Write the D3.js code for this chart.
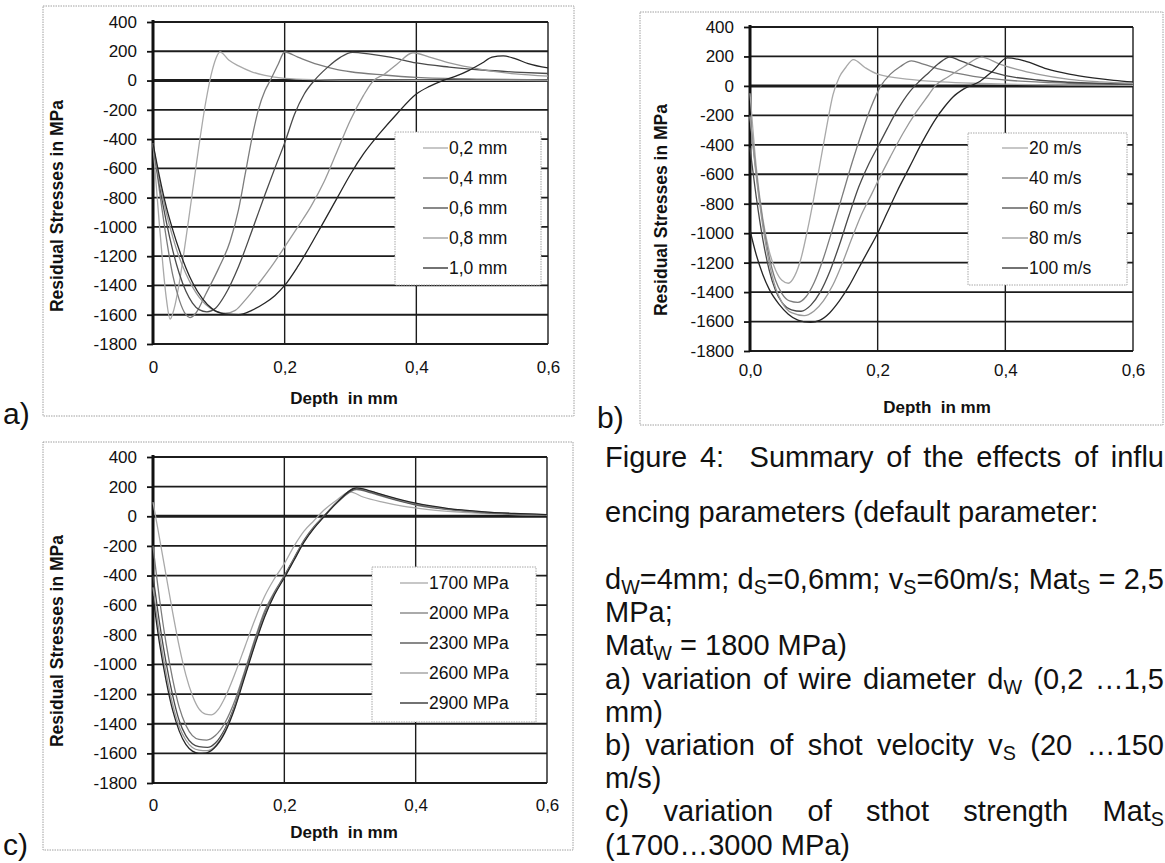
<!DOCTYPE html>
<html>
<head>
<meta charset="utf-8">
<script src="https://cdn.jsdelivr.net/npm/d3@7"></script>
<style>
  body { margin: 0; background: #fff; }
  svg { display: block; }
  text { white-space: pre; }
</style>
</head>
<body>
<svg id="fig" width="1165" height="863"></svg>
<script>
// ---- data ----
var stressTicks = [400, 200, 0, -200, -400, -600, -800, -1000, -1200, -1400, -1600, -1800];
var depthTicks = [0, 0.2, 0.4, 0.6];
var depthLabelsAC = ["0", "0,2", "0,4", "0,6"];
var depthLabelsB = ["0,0", "0,2", "0,4", "0,6"];

// a) wire diameter
var wireLabels = ["0,2 mm", "0,4 mm", "0,6 mm", "0,8 mm", "1,0 mm"];
var wire02 = [[0,-430],[0.005,-720],[0.01,-1000],[0.015,-1260],[0.02,-1480],[0.026,-1630],[0.032,-1560],[0.04,-1380],[0.05,-1080],[0.06,-760],[0.07,-440],[0.08,-150],[0.09,70],[0.102,195],[0.115,140],[0.13,100],[0.15,60],[0.17,35],[0.2,15],[0.25,6],[0.3,3],[0.4,2],[0.5,1],[0.6,0]];
var wire04 = [[0,-430],[0.01,-760],[0.02,-1070],[0.03,-1330],[0.04,-1500],[0.05,-1600],[0.056,-1620],[0.065,-1590],[0.08,-1460],[0.1,-1280],[0.117,-1100],[0.13,-880],[0.14,-640],[0.15,-400],[0.16,-200],[0.17,-70],[0.178,0],[0.19,110],[0.2,195],[0.22,160],[0.25,110],[0.28,75],[0.3,60],[0.35,38],[0.4,22],[0.5,10],[0.6,5]];
var wire06 = [[0,-430],[0.01,-720],[0.02,-960],[0.03,-1160],[0.04,-1320],[0.05,-1440],[0.06,-1520],[0.07,-1565],[0.082,-1580],[0.095,-1555],[0.11,-1460],[0.13,-1270],[0.15,-1030],[0.17,-780],[0.185,-600],[0.2,-426],[0.215,-230],[0.23,-90],[0.245,0],[0.265,90],[0.285,160],[0.303,192],[0.33,180],[0.36,160],[0.4,120],[0.45,92],[0.5,72],[0.55,58],[0.6,48]];
var wire08 = [[0,-430],[0.01,-690],[0.02,-900],[0.03,-1070],[0.04,-1210],[0.05,-1320],[0.06,-1410],[0.07,-1480],[0.08,-1530],[0.095,-1575],[0.11,-1590],[0.125,-1570],[0.14,-1500],[0.16,-1390],[0.18,-1270],[0.2,-1137],[0.22,-1000],[0.24,-860],[0.26,-690],[0.28,-480],[0.3,-270],[0.32,-100],[0.335,0],[0.35,40],[0.37,110],[0.395,190],[0.42,160],[0.45,120],[0.5,75],[0.55,45],[0.6,30]];
var wire10 = [[0,-430],[0.01,-660],[0.02,-860],[0.03,-1020],[0.04,-1160],[0.05,-1280],[0.06,-1380],[0.075,-1490],[0.09,-1560],[0.11,-1595],[0.13,-1600],[0.15,-1570],[0.17,-1520],[0.185,-1470],[0.2,-1400],[0.22,-1270],[0.25,-1040],[0.28,-800],[0.3,-640],[0.32,-500],[0.345,-358],[0.37,-230],[0.4,-92],[0.42,-40],[0.44,0],[0.46,30],[0.48,70],[0.5,120],[0.515,160],[0.532,168],[0.55,150],[0.57,115],[0.6,86]];

// b) shot velocity
var velLabels = ["20 m/s", "40 m/s", "60 m/s", "80 m/s", "100 m/s"];
var vel20 = [[0,-50],[0.01,-560],[0.02,-900],[0.03,-1120],[0.04,-1250],[0.05,-1320],[0.06,-1340],[0.07,-1290],[0.08,-1170],[0.09,-980],[0.1,-760],[0.11,-520],[0.12,-280],[0.13,-60],[0.14,60],[0.15,125],[0.162,178],[0.18,125],[0.2,80],[0.25,45],[0.3,28],[0.35,18],[0.4,12],[0.5,6],[0.6,4]];
var vel40 = [[0,-200],[0.01,-600],[0.02,-920],[0.03,-1160],[0.04,-1320],[0.05,-1410],[0.062,-1460],[0.075,-1470],[0.088,-1430],[0.1,-1340],[0.115,-1170],[0.13,-960],[0.145,-740],[0.16,-520],[0.175,-320],[0.19,-140],[0.205,0],[0.22,80],[0.235,130],[0.253,170],[0.27,150],[0.3,110],[0.35,65],[0.4,40],[0.5,18],[0.6,10]];
var vel60 = [[0,-420],[0.01,-760],[0.02,-1040],[0.03,-1250],[0.04,-1390],[0.05,-1470],[0.065,-1520],[0.08,-1530],[0.095,-1490],[0.11,-1400],[0.125,-1260],[0.14,-1080],[0.155,-880],[0.17,-690],[0.185,-540],[0.2,-415],[0.215,-290],[0.23,-170],[0.25,-40],[0.265,30],[0.28,90],[0.295,150],[0.313,196],[0.33,170],[0.36,120],[0.4,70],[0.45,40],[0.5,25],[0.6,12]];
var vel80 = [[0,-210],[0.01,-620],[0.02,-950],[0.03,-1200],[0.04,-1370],[0.05,-1470],[0.065,-1540],[0.085,-1560],[0.1,-1530],[0.115,-1460],[0.13,-1350],[0.145,-1200],[0.16,-1030],[0.175,-870],[0.19,-740],[0.2,-650],[0.22,-480],[0.24,-320],[0.26,-180],[0.28,-60],[0.29,0],[0.31,60],[0.335,130],[0.363,196],[0.39,150],[0.42,110],[0.45,80],[0.5,45],[0.55,28],[0.6,18]];
var vel100 = [[0,-980],[0.01,-1150],[0.02,-1280],[0.03,-1380],[0.045,-1480],[0.06,-1550],[0.075,-1590],[0.095,-1605],[0.11,-1590],[0.125,-1540],[0.14,-1460],[0.155,-1360],[0.17,-1240],[0.185,-1120],[0.2,-1000],[0.215,-860],[0.23,-720],[0.25,-550],[0.27,-380],[0.29,-230],[0.305,-140],[0.318,-75],[0.335,-20],[0.36,30],[0.38,100],[0.403,190],[0.43,170],[0.465,115],[0.5,80],[0.537,55],[0.57,38],[0.6,27]];

// c) shot strength
var strengthLabels = ["1700 MPa", "2000 MPa", "2300 MPa", "2600 MPa", "2900 MPa"];
var str1700 = [[0,96],[0.01,-150],[0.02,-400],[0.03,-650],[0.04,-880],[0.05,-1070],[0.06,-1210],[0.07,-1300],[0.08,-1335],[0.089,-1340],[0.1,-1300],[0.11,-1220],[0.125,-1060],[0.14,-880],[0.155,-700],[0.17,-540],[0.185,-420],[0.2,-320],[0.215,-200],[0.23,-100],[0.245,-30],[0.26,40],[0.28,110],[0.3,165],[0.32,130],[0.35,95],[0.38,68],[0.42,45],[0.48,25],[0.55,12],[0.6,8]];
var str2000 = [[0,-200],[0.01,-560],[0.02,-860],[0.03,-1100],[0.04,-1290],[0.05,-1410],[0.06,-1480],[0.07,-1505],[0.082,-1510],[0.095,-1480],[0.11,-1390],[0.125,-1240],[0.14,-1040],[0.155,-830],[0.17,-640],[0.185,-510],[0.2,-400],[0.215,-280],[0.23,-160],[0.245,-70],[0.26,0],[0.28,90],[0.31,180],[0.33,160],[0.36,120],[0.4,75],[0.45,45],[0.5,25],[0.55,14],[0.6,8]];
var str2300 = [[0,-400],[0.01,-720],[0.02,-990],[0.03,-1210],[0.04,-1380],[0.05,-1480],[0.06,-1535],[0.07,-1555],[0.083,-1560],[0.095,-1530],[0.11,-1430],[0.125,-1270],[0.14,-1060],[0.155,-850],[0.17,-660],[0.185,-520],[0.2,-405],[0.215,-285],[0.23,-165],[0.245,-75],[0.26,0],[0.28,95],[0.31,185],[0.33,165],[0.36,125],[0.4,80],[0.45,48],[0.5,28],[0.55,16],[0.6,9]];
var str2600 = [[0,-480],[0.01,-800],[0.02,-1060],[0.03,-1270],[0.04,-1420],[0.05,-1510],[0.06,-1560],[0.07,-1578],[0.082,-1582],[0.095,-1550],[0.11,-1445],[0.125,-1280],[0.14,-1070],[0.155,-860],[0.17,-670],[0.185,-525],[0.2,-410],[0.215,-290],[0.23,-170],[0.245,-78],[0.26,-2],[0.28,95],[0.31,190],[0.33,170],[0.36,130],[0.4,85],[0.45,50],[0.5,30],[0.55,18],[0.6,10]];
var str2900 = [[0,-540],[0.01,-860],[0.02,-1110],[0.03,-1310],[0.04,-1450],[0.05,-1540],[0.06,-1585],[0.07,-1600],[0.08,-1598],[0.093,-1565],[0.11,-1455],[0.125,-1290],[0.14,-1080],[0.155,-870],[0.17,-680],[0.185,-530],[0.2,-415],[0.215,-295],[0.23,-175],[0.245,-82],[0.26,-5],[0.28,92],[0.31,192],[0.33,172],[0.36,132],[0.4,88],[0.45,52],[0.5,32],[0.55,19],[0.6,11]];

var lineGreys = ["#a9a9a9", "#7c7c7c", "#4a4a4a", "#9a9a9a", "#262626"];

var svg = d3.select("#fig");
var fontSans = "'Liberation Sans', Arial, sans-serif";

function drawPanel(o) {
  var g = svg.append("g");

  // dotted frame round each chart
  g.append("rect")
    .attr("x", o.box[0]).attr("y", o.box[1])
    .attr("width", o.box[2] - o.box[0]).attr("height", o.box[3] - o.box[1])
    .attr("fill", "none").attr("stroke", "#a0a0a0").attr("stroke-width", 1)
    .attr("stroke-dasharray", "1.5,1");

  var x = d3.scaleLinear().domain([0, 0.6]).range([o.left, o.right]);
  var y = d3.scaleLinear().domain([-1800, 400]).range([o.bottom, o.top]);

  // grid
  g.selectAll("line.hg").data(stressTicks).enter().append("line")
    .attr("x1", o.left).attr("x2", o.right)
    .attr("y1", function(d) { return y(d); }).attr("y2", function(d) { return y(d); })
    .attr("stroke", "#1c1c1c")
    .attr("stroke-width", function(d) { return d === 0 ? 3 : 1.8; });
  g.selectAll("line.vg").data(depthTicks.slice(1)).enter().append("line")
    .attr("x1", function(d) { return x(d); }).attr("x2", function(d) { return x(d); })
    .attr("y1", o.top).attr("y2", o.bottom)
    .attr("stroke", "#1c1c1c").attr("stroke-width", 1.4);

  // y axis
  var ya = d3.axisLeft(y).tickValues(stressTicks).tickSize(6).tickPadding(10)
    .tickFormat(function(d) { return String(d); });
  var yg = g.append("g").attr("transform", "translate(" + o.left + ",0)").call(ya);
  yg.select(".domain").remove();
  yg.selectAll(".tick line").attr("stroke", "#111").attr("stroke-width", 1.8);
  yg.selectAll(".tick text").attr("font-family", fontSans).attr("font-size", "17px").attr("fill", "#111");
  g.append("line").attr("x1", o.left).attr("x2", o.left).attr("y1", o.top - 2).attr("y2", o.bottom + 1)
    .attr("stroke", "#111").attr("stroke-width", 3);

  // x labels
  var fs = 17;
  var xa = d3.axisBottom(x).tickValues(depthTicks).tickSize(0)
    .tickPadding(o.xTickBase - o.bottom - 0.71 * fs)
    .tickFormat(function(d, i) { return o.xLabels[i]; });
  var xg = g.append("g").attr("transform", "translate(0," + o.bottom + ")").call(xa);
  xg.select(".domain").remove();
  xg.selectAll(".tick text").attr("font-family", fontSans).attr("font-size", fs + "px").attr("fill", "#111");

  // curves
  var line = d3.line()
    .x(function(d) { return x(d[0]); })
    .y(function(d) { return y(d[1]); })
    .curve(d3.curveMonotoneX);
  o.series.forEach(function(s, i) {
    g.append("path").datum(s).attr("d", line)
      .attr("fill", "none").attr("stroke", lineGreys[i]).attr("stroke-width", 1.3);
  });

  // axis titles
  g.append("text")
    .attr("transform", "translate(" + o.yTitle[0] + "," + o.yTitle[1] + ") rotate(-90)")
    .attr("text-anchor", "middle").attr("font-family", fontSans).attr("font-weight", "bold")
    .attr("font-size", "17.5px").attr("fill", "#111").text("Residual Stresses in MPa");
  g.append("text")
    .attr("x", o.xTitle[0]).attr("y", o.xTitle[1])
    .attr("text-anchor", "middle").attr("font-family", fontSans).attr("font-weight", "bold")
    .attr("font-size", "17px").attr("fill", "#111").text("Depth  in mm");

  // legend
  var L = o.legend;
  var lg = g.append("g");
  lg.append("rect")
    .attr("x", L.box[0]).attr("y", L.box[1])
    .attr("width", L.box[2] - L.box[0]).attr("height", L.box[3] - L.box[1])
    .attr("fill", "#fff").attr("stroke", "#a8a8a8").attr("stroke-width", 1)
    .attr("stroke-dasharray", "1.5,1");
  var rows = lg.selectAll("g.row").data(o.labels).enter().append("g")
    .attr("transform", function(d, i) { return "translate(0," + (L.first + i * L.pitch) + ")"; });
  rows.append("line")
    .attr("x1", L.line[0]).attr("x2", L.line[1]).attr("y1", 0).attr("y2", 0)
    .attr("stroke", function(d, i) { return lineGreys[i]; }).attr("stroke-width", 1.3);
  rows.append("text")
    .attr("x", L.line[1] + 1).attr("y", 0).attr("dy", "0.36em")
    .attr("font-family", fontSans).attr("font-size", "17.5px").attr("fill", "#111")
    .text(function(d) { return d; });

  // panel letter
  svg.append("text").attr("x", o.letter[0]).attr("y", o.letter[1])
    .attr("font-family", fontSans).attr("font-size", "30px").attr("fill", "#111")
    .text(o.letterText);
}

drawPanel({
  box: [43, 6, 574, 416], left: 153, right: 548, top: 22, bottom: 344,
  xLabels: depthLabelsAC, xTickBase: 373,
  series: [wire02, wire04, wire06, wire08, wire10], labels: wireLabels,
  yTitle: [63, 206], xTitle: [344, 404],
  legend: { box: [395, 132, 541, 285], first: 148, pitch: 30, line: [423, 448] },
  letter: [3, 424], letterText: "a)"
});

drawPanel({
  box: [640, 12, 1163, 425], left: 750, right: 1133, top: 27, bottom: 351,
  xLabels: depthLabelsB, xTickBase: 376,
  series: [vel20, vel40, vel60, vel80, vel100], labels: velLabels,
  yTitle: [667, 210], xTitle: [937, 413],
  legend: { box: [968, 133, 1127, 285], first: 148, pitch: 30, line: [1002, 1028] },
  letter: [597, 428], letterText: "b)"
});

drawPanel({
  box: [43, 442, 573, 850], left: 153, right: 547, top: 457, bottom: 783,
  xLabels: depthLabelsAC, xTickBase: 811,
  series: [str1700, str2000, str2300, str2600, str2900], labels: strengthLabels,
  yTitle: [63, 641], xTitle: [344, 838],
  legend: { box: [372, 567, 536, 722], first: 583, pitch: 30, line: [400, 428] },
  letter: [3, 855], letterText: "c)"
});

// ---- caption, justified to the right page edge like the scan ----
var captionLines = [
  { y: 467, just: true,  segs: [["Figure 4:  Summary of the effects of influ"]] },
  { y: 522, just: false, segs: [["encing parameters (default parameter:"]] },
  { y: 589, just: true,  segs: [["d"], ["W", 1], ["=4mm; d"], ["S", 1], ["=0,6mm; v"], ["S", 1], ["=60m/s; Mat"], ["S", 1], [" = 2,5"]] },
  { y: 622, just: false, segs: [["MPa;"]] },
  { y: 655, just: false, segs: [["Mat"], ["W", 1], [" = 1800 MPa)"]] },
  { y: 689, just: true,  segs: [["a) variation of wire diameter d"], ["W", 1], [" (0,2 \u20261,5"]] },
  { y: 722, just: false, segs: [["mm)"]] },
  { y: 755, just: true,  segs: [["b) variation of shot velocity v"], ["S", 1], [" (20 \u2026150"]] },
  { y: 788, just: false, segs: [["m/s)"]] },
  { y: 821, just: true,  segs: [["c) variation of sthot strength Mat"], ["S", 1]] },
  { y: 855, just: false, segs: [["(1700\u20263000 MPa)"]] }
];
var capX = 605, capRight = 1164, capFs = 29;

captionLines.forEach(function(ln) {
  var t = svg.append("text").attr("x", capX).attr("y", ln.y)
    .attr("font-family", fontSans).attr("font-size", capFs + "px").attr("fill", "#111");
  var down = false;
  ln.segs.forEach(function(s) {
    var ts = t.append("tspan").text(s[0]);
    if (s[1]) { ts.attr("font-size", (capFs * 0.68) + "px").attr("dy", 5); down = true; }
    else if (down) { ts.attr("dy", -5); down = false; }
  });
  if (ln.just) {
    var full = ln.segs.map(function(s) { return s[0]; }).join("");
    var spaces = (full.match(/ /g) || []).length;
    var natural = t.node().getComputedTextLength();
    t.attr("word-spacing", Math.max(0, (capRight - capX - natural) / spaces) + "px");
  }
});
</script>
</body>
</html>
